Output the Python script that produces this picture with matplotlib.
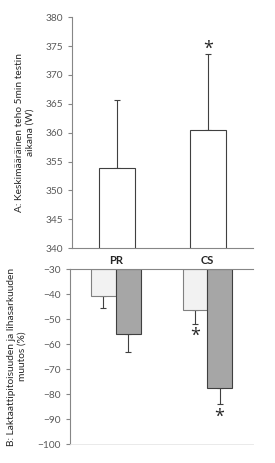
import numpy as np
import matplotlib.pyplot as plt

plt.rcParams['font.family'] = ['Lato', 'DejaVu Sans']

# Data
groups = ['PR', 'CS']
power = [353.8, 360.5]
power_sd = [11.8, 13.2]
lactate = [-40.8, -46.5]
lactate_sd = [4.8, 5.5]
soreness = [-56.0, -77.7]
soreness_sd = [7.0, 6.2]

grey = '#595959'
spine = '#868686'
star = dict(ha='center', va='baseline', fontsize=13, color='#262626',
            family='Open Sans', textcoords='offset points')

fig = plt.figure(figsize=(2.75, 4.63), dpi=100)
ax1 = fig.add_axes([0.262, 0.464, 0.658, 0.499])
ax2 = fig.add_axes([0.255, 0.041, 0.665, 0.378])

x = np.arange(len(groups))

# Panel A
ax1.bar(x, power, width=0.40, color='white', edgecolor='#404040', linewidth=0.8, zorder=2)
ax1.errorbar(x, power, yerr=[np.zeros(2), power_sd], fmt='none', ecolor='#404040',
             elinewidth=0.8, capsize=2, capthick=0.8, zorder=1)
ax1.set_ylim(340, 380)
ax1.set_yticks(np.arange(340, 381, 5))
ax1.set_xlim(-0.5, 1.5)
ax1.set_xticks([])
ax1.annotate('*', xy=(x[1], power[1] + power_sd[1]), xytext=(0, 0), **star)
ax1.set_ylabel('A: Keskimääräinen teho 5min testin\naikana (W)', fontsize=7.3, color='#262626', labelpad=8)
for s in ['top', 'right']:
    ax1.spines[s].set_visible(False)
for s in ['left', 'bottom']:
    ax1.spines[s].set_color(spine)
    ax1.spines[s].set_linewidth(0.8)

# Panel B
w = 0.27
ax2.bar(x - w / 2, np.array(lactate) + 30, bottom=-30, width=w, color='#f2f2f2',
        edgecolor='#808080', linewidth=0.8, zorder=2)
ax2.bar(x + w / 2, np.array(soreness) + 30, bottom=-30, width=w, color='#a6a6a6',
        edgecolor='#404040', linewidth=0.8, zorder=2)
ax2.errorbar(x - w / 2, lactate, yerr=[lactate_sd, np.zeros(2)], fmt='none', ecolor='#404040',
             elinewidth=0.8, capsize=2, capthick=0.8, zorder=1)
ax2.errorbar(x + w / 2, soreness, yerr=[soreness_sd, np.zeros(2)], fmt='none', ecolor='#404040',
             elinewidth=0.8, capsize=2, capthick=0.8, zorder=1)
ax2.annotate('*', xy=(x[1] - w / 2, lactate[1] - lactate_sd[1]), xytext=(0, -12.3), **star)
ax2.annotate('*', xy=(x[1] + w / 2, soreness[1] - soreness_sd[1]), xytext=(0, -12.8), **star)
ax2.set_ylim(-100, -30)
ax2.set_yticks(np.arange(-100, -29, 10))
ax2.set_xlim(-0.5, 1.5)
ax2.set_xticks([])
ax2.set_ylabel('B: Laktaattipitoisuuden ja lihasarkuuden\nmuutos (%)', fontsize=7.3, color='#262626', labelpad=8)
ax2.spines['right'].set_visible(False)
ax2.spines['bottom'].set_color('#e6e6e6')
ax2.spines['bottom'].set_linewidth(0.6)
for s in ['left', 'top']:
    ax2.spines[s].set_color(spine)
    ax2.spines[s].set_linewidth(0.8)

# group labels between the panels
for i, g in enumerate(groups):
    ax2.text(x[i], -30 + 1.2, g, ha='center', va='bottom', fontsize=8, fontweight='bold', color='#262626')

for ax in (ax1, ax2):
    ax.tick_params(axis='y', labelsize=7.3, colors=spine, labelcolor=grey, length=3, width=0.8)
    ax.tick_params(axis='x', length=0)

fig.savefig('out.png', dpi=100)
